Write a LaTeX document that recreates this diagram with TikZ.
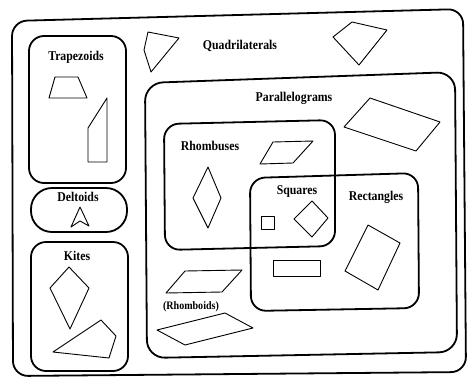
\documentclass[tikz,border=0pt]{standalone}
\usepackage{fontspec}
\setmainfont{Liberation Serif}
\newfontfamily\lab[FakeStretch=0.88]{Liberation Serif}
\begin{document}
\begin{tikzpicture}[x=1pt,y=-1pt,
  box/.style={line width=1.8pt, rounded corners=15pt, line join=round},
  shp/.style={line width=0.9pt, line join=round},
  lbl/.style={font=\lab\bfseries\fontsize{13.4}{14}\selectfont, inner sep=0pt},
  sublbl/.style={font=\lab\bfseries\fontsize{11.4}{12}\selectfont, inner sep=0pt}]
\useasboundingbox (0,0) rectangle (468,378);
% boxes
\draw[box] (12,21) -- (463,9) -- (466,372) -- (13,376) -- cycle;
\draw[box] (29,36) -- (126,36) -- (126,183) -- (29,183) -- cycle;
\draw[box, rounded corners=21pt] (31,188) -- (127,188) -- (127,232) -- (31,232) -- cycle;
\draw[box] (31,242) -- (128,242) -- (128,371) -- (31,371) -- cycle;
\draw[box, rounded corners=18pt] (145,83) -- (455,72) -- (457,352) -- (147,358) -- cycle;
\draw[box] (164,124) -- (335,120) -- (335,246) -- (165,250) -- cycle;
\draw[box] (250,178) -- (418,173) -- (419,308) -- (251,311) -- cycle;
% labels
\node[lbl] (quad) at (240,46) {Quadrilaterals};
\node[lbl] (trap) at (76,57) {Trapezoids};
\node[lbl] (delt) at (78,197) {Deltoids};
\node[lbl] (kite) at (77,256) {Kites};
\node[lbl] (para) at (294,98) {Parallelograms};
\node[lbl] (rhom) at (210,146) {Rhombuses};
\node[lbl] (squa) at (297,191) {Squares};
\node[lbl] (rect) at (376,197) {Rectangles};
\node[sublbl] (rhbd) at (191,307) {(Rhomboids)};
% shapes
\draw[shp] (148,32) -- (179,38) -- (151,72) -- (144,50) -- cycle;
\draw[shp] (352,22) -- (387,30) -- (359,65) -- (333,37) -- cycle;
\draw[shp] (55,77) -- (78,77) -- (87,98) -- (49,98) -- cycle;
\draw[shp] (88,128) -- (107,98) -- (107,162) -- (88,162) -- cycle;
\draw[shp] (80,207) -- (89,226) -- (80,221) -- (71,227) -- cycle;
\draw[shp] (69,267) -- (89,288) -- (70,329) -- (50,288) -- cycle;
\draw[shp] (53,352) -- (101,320) -- (116,336) -- (109,358) -- cycle;
\draw[shp] (370,98) -- (440,122) -- (416,151) -- (344,127) -- cycle;
\draw[shp] (208,167) -- (221,198) -- (208,228) -- (193,198) -- cycle;
\draw[shp] (273,142) -- (313,141) -- (293,163) -- (260,164) -- cycle;
\draw[shp] (261,216) rectangle (274,229);
\draw[shp] (312,201) -- (328,218) -- (312,237) -- (294,219) -- cycle;
\draw[shp] (368,225) -- (400,243) -- (378,290) -- (345,271) -- cycle;
\draw[shp] (273,260) rectangle (320,276);
\draw[shp] (185,271) -- (242,270) -- (222,292) -- (166,293) -- cycle;
\draw[shp] (225,313) -- (253,328) -- (185,345) -- (157,330) -- cycle;
\end{tikzpicture}
\end{document}
